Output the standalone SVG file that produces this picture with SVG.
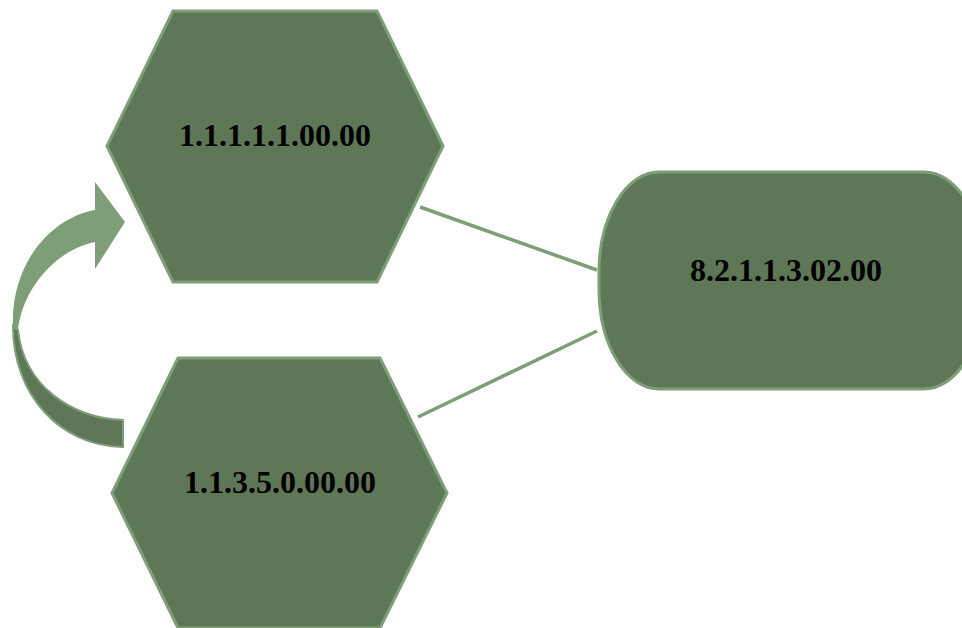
<svg xmlns="http://www.w3.org/2000/svg" width="962" height="628" viewBox="0 0 962 628">
<style>
.node{fill:#5e7756;stroke:#7e9e77;stroke-width:3}
.lbl{font-family:"Liberation Serif","Times New Roman",serif;font-weight:bold;font-size:32px;fill:#000;text-anchor:middle}
.conn{stroke:#7e9e77;stroke-width:3.5;fill:none}
</style>
<rect width="962" height="628" fill="#fff"/>
<g id="connectors">
<line class="conn" x1="420" y1="207" x2="597" y2="270"/>
<line class="conn" x1="418" y1="417" x2="597" y2="331"/>
<g id="cycle-arrow">
<path d="M13,326 C13,395 60,446 123,447 L123,420 C70,418 24,385 18,330 Z" fill="#5e7756" stroke="#7e9e77" stroke-width="2"/>
<path d="M13,328 C10,265 50,218 95,210 L95,182 L125,222 L95,269 L95,242 C55,250 22,290 18,330 Z" fill="#7e9e77"/>
</g>
</g>
<g id="n1">
<polygon class="node" points="173,11 377,11 443,146 377,282 173,282 107,146"/>
<text class="lbl" x="275" y="146">1.1.1.1.1.00.00</text>
</g>
<g id="n2">
<polygon class="node" points="178,358 380,358 447,493 380,628 178,628 112,493"/>
<text class="lbl" x="280" y="493">1.1.3.5.0.00.00</text>
</g>
<g id="n3">
<rect class="node" x="599" y="172" width="385" height="217" rx="60" ry="100"/>
<text class="lbl" x="786" y="281">8.2.1.1.3.02.00</text>
</g>
</svg>
